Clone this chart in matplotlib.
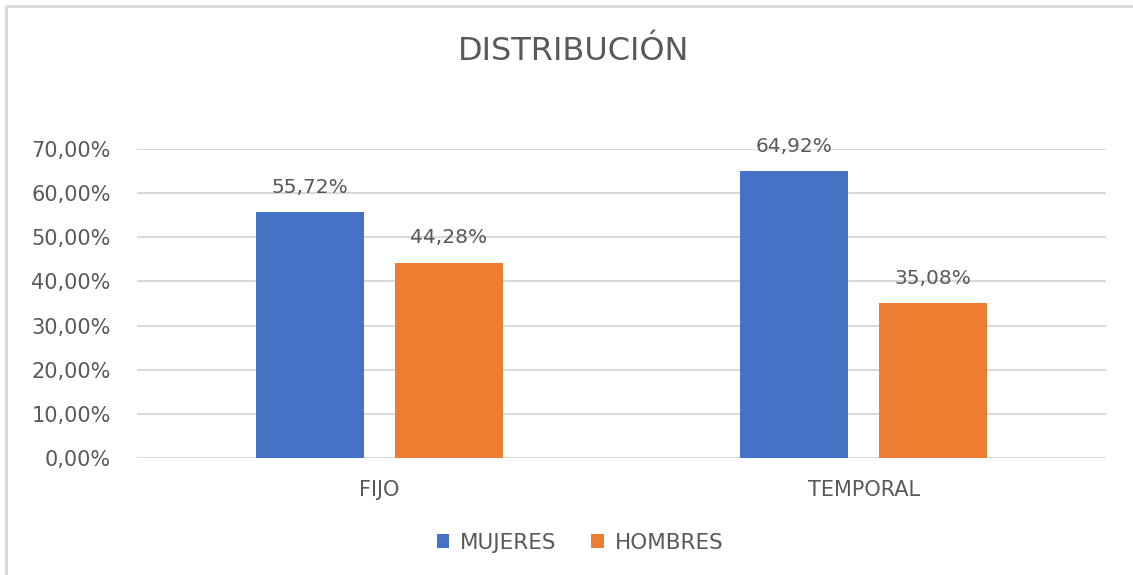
import matplotlib.pyplot as plt
import matplotlib.patches as mpatches
import numpy as np

plt.rcParams['font.family'] = ['DejaVu Sans']

categorias = ["FIJO", "TEMPORAL"]
mujeres = [55.72, 64.92]
hombres = [44.28, 35.08]
ticks = [0, 10, 20, 30, 40, 50, 60, 70]

azul = "#4472C4"
naranja = "#ED7D31"
gris = "#595959"

fig = plt.figure(figsize=(11.33, 5.75), dpi=100)
# marco exterior
fig.patches.append(mpatches.Rectangle((6 / 1133, -0.1), 1.2, 1 - 6 / 575 + 0.1,
                                      transform=fig.transFigure, fill=False,
                                      edgecolor="#d9d9d9", linewidth=2))
ax = fig.add_axes([0.1209, 0.2035, 0.8553, 0.5374])

x = np.arange(len(categorias))
ancho = 0.223
desp = 0.1435
b1 = ax.bar(x - desp, mujeres, ancho, color=azul, label="MUJERES", zorder=3)
b2 = ax.bar(x + desp, hombres, ancho, color=naranja, label="HOMBRES", zorder=3)

for barras, vals in ((b1, mujeres), (b2, hombres)):
    for b, v in zip(barras, vals):
        ax.annotate(f"{v:.2f}%".replace(".", ","),
                    (b.get_x() + b.get_width() / 2, v),
                    xytext=(0, 11), textcoords="offset points",
                    ha="center", va="bottom", fontsize=14.5, color=gris)

ax.set_xlim(-0.5, 1.5)
ax.set_ylim(0, 70)
ax.set_yticks(ticks)
ax.set_yticklabels([f"{t:.2f}%".replace(".", ",") for t in ticks])
ax.set_xticks(x)
ax.set_xticklabels(categorias)
ax.tick_params(axis="both", length=0, labelsize=15, labelcolor=gris)
ax.tick_params(axis="y", pad=19)
ax.tick_params(axis="x", pad=16)
ax.grid(axis="y", color="#d9d9d9", linewidth=1.5, zorder=0)
for s in ax.spines.values():
    s.set_visible(False)

fig.text(0.506, 1 - 60 / 575, "DISTRIBUCIÓN", ha="center", va="baseline",
         fontsize=23, color=gris)

fig.legend(handles=[b1, b2], loc="center", bbox_to_anchor=(0.512, 0.056),
           ncol=2, frameon=False, fontsize=15.5, labelcolor=gris,
           handlelength=0.6, handleheight=0.6, columnspacing=1.6,
           handletextpad=0.5)

fig.savefig("out.png", dpi=100)
